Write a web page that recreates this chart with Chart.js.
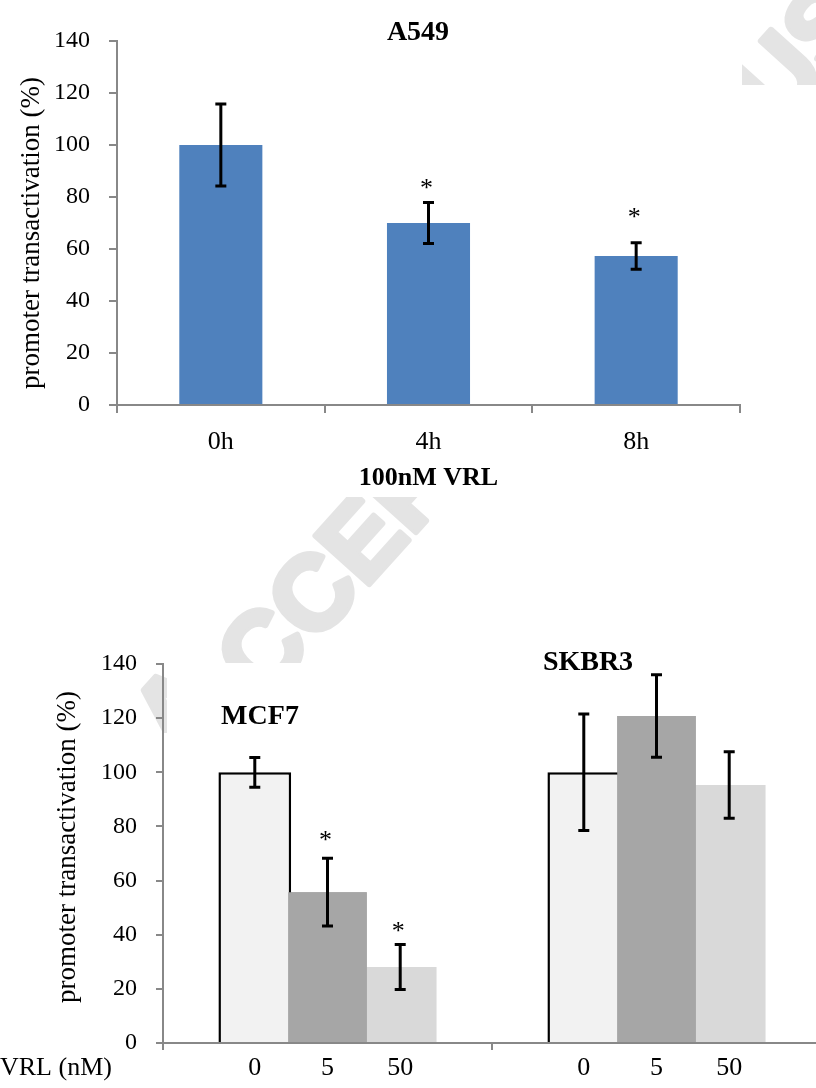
<!DOCTYPE html>
<html lang="en">
<head>
<meta charset="UTF-8" />
<title>Promoter transactivation</title>
<script src="https://cdn.jsdelivr.net/npm/chart.js@4"></script>
<style>
  html, body { margin: 0; padding: 0; background: #fff; }
  #page { position: relative; width: 816px; height: 1088px; overflow: hidden; background: #fff; }
  #watermark { position: absolute; left: 0; top: 0; }
  #topChart { position: absolute; left: 0; top: 0; }
  #bottomChart { position: absolute; left: 0; top: 600px; }
</style>
</head>
<body>
<div id="page">
  <canvas id="watermark" width="816" height="1088"></canvas>
  <canvas id="topChart" width="760" height="497"></canvas>
  <canvas id="bottomChart" width="830" height="488"></canvas>
</div>

<script>
  // A549, 100nM VRL time course
  const topLabels = ["0h", "4h", "8h"];
  const topValues = [100, 70, 57.3];
  const topErrors = [15.8, 7.9, 5.1];
  const topStars = [null, 85.4, 74.2]; // where the * sits

  // MCF7 / SKBR3, VRL dose
  const cellLines = ["MCF7", "SKBR3"];
  const doses = ["0", "5", "50"];
  const dose0 = [100, 100];
  const dose5 = [55.7, 120.8];
  const dose50 = [28.1, 95.3];
  const dose0Err = [5.5, 21.5];
  const dose5Err = [12.5, 15.2];
  const dose50Err = [8.3, 12.3];
  const dose5Stars = [76.8, null];
  const dose50Stars = [43.2, null];

  const yTicks = [0, 20, 40, 60, 80, 100, 120, 140];

  const serif = "'Liberation Serif', 'Times New Roman', serif";
  const axisGray = "#888888";

  function drawText(ctx, text, x, y, font, align, rotate) {
    ctx.save();
    ctx.font = font;
    ctx.fillStyle = "#000";
    ctx.textAlign = align || "center";
    ctx.textBaseline = "middle";
    ctx.translate(x, y);
    if (rotate) ctx.rotate(rotate);
    ctx.fillText(text, 0, 0);
    ctx.restore();
  }

  // error bars + significance stars, also redraws datasets flagged onTop
  const errorBars = {
    id: "errorBars",
    afterDatasetsDraw(chart) {
      const ctx = chart.ctx;
      const y = chart.scales.y;
      chart.data.datasets.forEach((ds, i) => {
        if (ds.onTop) chart.getDatasetMeta(i).data.forEach((el) => el.draw(ctx));
      });
      chart.data.datasets.forEach((ds, i) => {
        chart.getDatasetMeta(i).data.forEach((bar, j) => {
          const v = ds.data[j];
          const e = ds.errors[j];
          const x = bar.x;
          const hi = y.getPixelForValue(v + e);
          const lo = y.getPixelForValue(v - e);
          ctx.save();
          ctx.strokeStyle = "#000";
          ctx.lineWidth = 3;
          ctx.beginPath();
          ctx.moveTo(x, hi);
          ctx.lineTo(x, lo);
          ctx.moveTo(x - 5.5, hi);
          ctx.lineTo(x + 5.5, hi);
          ctx.moveTo(x - 5.5, lo);
          ctx.lineTo(x + 5.5, lo);
          ctx.stroke();
          ctx.restore();
          if (ds.stars && ds.stars[j] != null) {
            ctx.save();
            ctx.font = "26px " + serif;
            ctx.fillStyle = "#000";
            ctx.textAlign = "center";
            ctx.textBaseline = "alphabetic";
            ctx.fillText("*", x - 2, y.getPixelForValue(ds.stars[j]) + 13);
            ctx.restore();
          }
        });
      });
    },
  };

  function yScale(width, tickLen) {
    return {
      min: 0,
      max: 140,
      afterBuildTicks: (s) => {
        s.ticks = yTicks.map((v) => ({ value: v }));
      },
      grid: { drawOnChartArea: false, tickLength: tickLen, color: axisGray, lineWidth: 2 },
      border: { color: axisGray, width: 2 },
      ticks: { color: "#000", font: { family: serif, size: 24 }, padding: 19 },
      afterFit: (s) => {
        s.width = width;
      },
    };
  }

  // top chart
  new Chart(document.getElementById("topChart"), {
    type: "bar",
    data: {
      labels: topLabels,
      datasets: [
        {
          data: topValues,
          errors: topErrors,
          stars: topStars,
          backgroundColor: "#4f81bd",
          barPercentage: 0.4,
          categoryPercentage: 1,
        },
      ],
    },
    options: {
      responsive: false,
      animation: false,
      layout: { padding: { top: 41, right: 20, left: 0, bottom: 0 } },
      plugins: { legend: { display: false }, tooltip: { enabled: false } },
      scales: {
        x: {
          grid: { drawOnChartArea: false, tickLength: 8, color: axisGray, lineWidth: 2 },
          border: { color: axisGray, width: 2 },
          ticks: { color: "#000", font: { family: serif, size: 26 }, padding: 14 },
          afterFit: (s) => {
            s.height = 92;
          },
        },
        y: yScale(117, 8),
      },
    },
    plugins: [
      errorBars,
      {
        id: "topText",
        afterDraw(chart) {
          const ctx = chart.ctx;
          const ca = chart.chartArea;
          drawText(ctx, "A549", 418, 33, "bold 28px " + serif);
          drawText(ctx, "100nM VRL", (ca.left + ca.right) / 2, 478, "bold 26px " + serif);
          drawText(ctx, "promoter transactivation (%)", 32, 233, "27px " + serif, "center", -Math.PI / 2);
        },
      },
    ],
  });

  // bottom chart
  new Chart(document.getElementById("bottomChart"), {
    type: "bar",
    data: {
      labels: cellLines,
      datasets: [
        {
          label: doses[0],
          data: dose0,
          errors: dose0Err,
          backgroundColor: "#f2f2f2",
          borderColor: "#000",
          borderWidth: 2.5,
          borderSkipped: "bottom",
          barPercentage: 1,
        },
        {
          label: doses[1],
          data: dose5,
          errors: dose5Err,
          stars: dose5Stars,
          backgroundColor: "#a6a6a6",
          barPercentage: 1.08,
          onTop: true,
        },
        {
          label: doses[2],
          data: dose50,
          errors: dose50Err,
          stars: dose50Stars,
          backgroundColor: "#d9d9d9",
          barPercentage: 1,
        },
      ],
    },
    options: {
      responsive: false,
      animation: false,
      categoryPercentage: 0.663,
      layout: { padding: { top: 64, right: 9, left: 0, bottom: 0 } },
      plugins: { legend: { display: false }, tooltip: { enabled: false } },
      scales: {
        x: {
          grid: { drawOnChartArea: false, tickLength: 7, color: axisGray, lineWidth: 2 },
          border: { color: axisGray, width: 2 },
          ticks: { callback: () => "", padding: 0 },
          afterFit: (s) => {
            s.height = 45;
          },
        },
        y: yScale(163, 7),
      },
    },
    plugins: [
      errorBars,
      {
        id: "bottomText",
        afterDraw(chart) {
          const ctx = chart.ctx;
          const ca = chart.chartArea;
          const labelY = ca.bottom + 25;
          chart.data.datasets.forEach((ds, i) => {
            chart.getDatasetMeta(i).data.forEach((bar) => {
              drawText(ctx, ds.label, bar.x, labelY, "26px " + serif);
            });
          });
          drawText(ctx, "VRL (nM)", 0, labelY, "26px " + serif, "left");
          drawText(ctx, cellLines[0], 260, 117, "bold 28px " + serif);
          drawText(ctx, cellLines[1], 588, 63, "bold 28px " + serif);
          drawText(ctx, "promoter transactivation (%)", 68, 247, "27px " + serif, "center", -Math.PI / 2);
        },
      },
    ],
  });

  // faint diagonal watermark, only showing where the page lets it through
  const wm = document.getElementById("watermark").getContext("2d");
  wm.save();
  wm.beginPath();
  wm.rect(195, 497, 621, 166);
  wm.rect(0, 663, 167, 70);
  wm.rect(742, 0, 74, 85);
  wm.clip();
  wm.font = "bold 105px 'Liberation Sans', Arial, sans-serif";
  wm.fillStyle = "#e4e4e4";
  wm.strokeStyle = "#e4e4e4";
  wm.lineWidth = 6;
  wm.lineJoin = "round";
  const wmAngle = (-48 * Math.PI) / 180;
  [["A", 178, 760], ["CCEPTED MANUSCRIPT", 263, 702]].forEach(([t, x, y]) => {
    wm.save();
    wm.translate(x, y);
    wm.rotate(wmAngle);
    wm.strokeText(t, 0, 0);
    wm.fillText(t, 0, 0);
    wm.restore();
  });
  wm.restore();
</script>
</body>
</html>
